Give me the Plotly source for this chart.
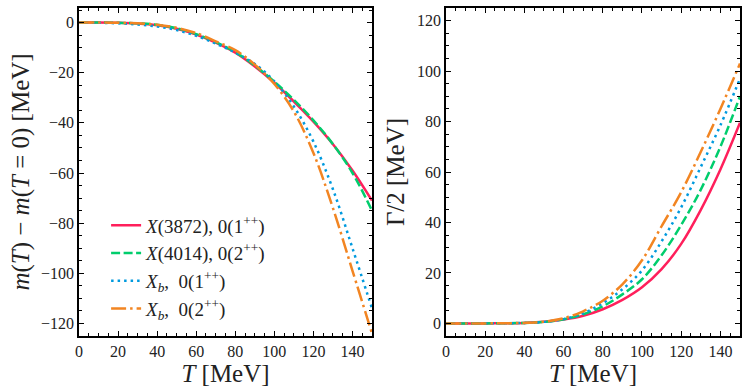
import plotly.graph_objects as go
from plotly.subplots import make_subplots

# temperature grid (MeV)
T = [0, 10, 20, 30, 40, 50, 60, 70, 80, 90, 100, 110, 120, 130, 140, 150]

# mass shift m(T) - m(T=0)  [MeV]
dm_x3872 = [0, 0, -0.1, -0.4, -1.1, -2.5, -4.8, -8.0, -12.0, -17.5, -24.0, -31.5, -39.5, -48.5, -59.0, -71]
dm_x4014 = [0, 0, -0.1, -0.3, -0.9, -2.3, -4.6, -7.8, -11.8, -17.2, -23.6, -30.8, -39.0, -48.5, -60.0, -75]
dm_xb1 = [0, -0.1, -0.3, -0.8, -1.6, -3.0, -5.3, -8.4, -12.0, -16.5, -23.5, -33.5, -47.5, -66.5, -90.0, -114]
dm_xb2 = [0, 0, -0.1, -0.3, -0.9, -2.1, -4.2, -7.5, -11.0, -16.8, -24.5, -35.5, -52.0, -74.0, -99.0, -124]

# half width Gamma/2  [MeV]
g_x3872 = [0, 0, 0, 0.05, 0.2, 0.6, 1.5, 3.0, 5.6, 9.3, 14.3, 21.5, 31.5, 45.0, 61.0, 79.5]
g_x4014 = [0, 0, 0, 0.05, 0.2, 0.6, 1.6, 3.6, 6.8, 11.5, 17.5, 27.0, 39.0, 53.0, 70.0, 90.0]
g_xb1 = [0, 0, 0, 0.05, 0.2, 0.6, 1.7, 4.0, 8.0, 13.5, 21.0, 32.5, 46.0, 62.0, 78.5, 97.0]
g_xb2 = [0, 0, 0, 0.05, 0.2, 0.7, 2.0, 4.8, 9.0, 15.5, 25.0, 38.5, 52.0, 68.0, 85.0, 103.0]

names = ['<i>X</i>(3872), 0(1<sup>++</sup>)',
         '<i>X</i>(4014), 0(2<sup>++</sup>)',
         '<i>X<sub>b</sub></i>,  0(1<sup>++</sup>)',
         '<i>X<sub>b</sub></i>,  0(2<sup>++</sup>)']
colors = ['#FF1F5B', '#00CD6C', '#009ADE', '#F28522']
dashes = ['solid', '9px,3.5px', '2.5px,4px', '15px,4px,2.5px,4px']

fig = make_subplots(rows=1, cols=2)

for i, (dm, g) in enumerate(zip([dm_x3872, dm_x4014, dm_xb1, dm_xb2],
                                [g_x3872, g_x4014, g_xb1, g_xb2])):
    line = dict(color=colors[i], width=2.5, dash=dashes[i], shape='spline')
    fig.add_trace(go.Scatter(x=T, y=dm, mode='lines', name=names[i], line=line), row=1, col=1)
    fig.add_trace(go.Scatter(x=T, y=g, mode='lines', name=names[i], line=line, showlegend=False), row=1, col=2)

font = 'Liberation Serif'
axis = dict(showgrid=False, zeroline=False, showline=True, linecolor='black', linewidth=1.5,
            mirror='ticks', ticks='inside', ticklen=5, tickwidth=1.2, tickcolor='black',
            tickfont=dict(family=font, size=16, color='#222'),
            minor=dict(ticks='inside', ticklen=3, tickwidth=1, tickcolor='black', dtick=5),
            title_font=dict(family=font, size=25, color='#222'), automargin=False)

fig.update_xaxes(axis, range=[0, 150], dtick=20, tick0=0, title_text='<i>T</i> [MeV]', title_standoff=2)
fig.update_xaxes(domain=[0, 0.4433], row=1, col=1)
fig.update_xaxes(domain=[0.5552, 1], row=1, col=2)
fig.update_yaxes(axis, dtick=20, tick0=0)
fig.update_yaxes(range=[-125, 5.8], row=1, col=1,
                 title_text='<i>m</i>(<i>T</i>) − <i>m</i>(<i>T</i> = 0) [MeV]', title_standoff=4)
fig.update_yaxes(range=[-5, 125], row=1, col=2, title_text='Γ/2 [MeV]', title_standoff=5)

fig.update_layout(width=748, height=392, margin=dict(l=79, r=8, t=8, b=56),
                  plot_bgcolor='white', paper_bgcolor='white',
                  legend=dict(x=0.041, y=0.395, xanchor='left', yanchor='top',
                              bgcolor='rgba(0,0,0,0)', tracegroupgap=0,
                              font=dict(family=font, size=19, color='#222')))

fig.write_html('out.html', config={'displayModeBar': False},
               post_script="document.body.style.margin='0';")
